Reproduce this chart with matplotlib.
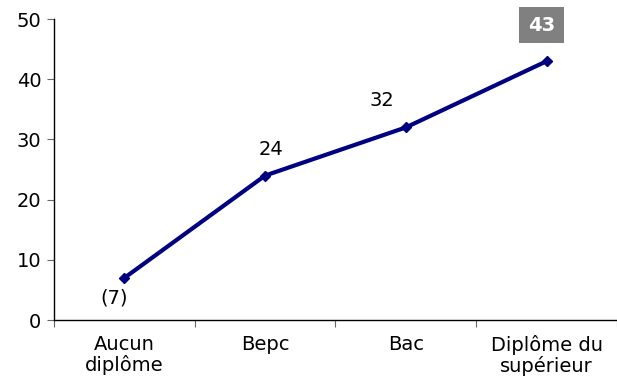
import matplotlib.pyplot as plt
from matplotlib.ticker import FixedLocator, NullFormatter

categories = ["Aucun\ndiplôme", "Bepc", "Bac", "Diplôme du\nsupérieur"]
values = [7, 24, 32, 43]
labels = ["(7)", "24", "32", "43"]

plt.rcParams["font.family"] = "DejaVu Sans"

fig = plt.figure(figsize=(6.17, 3.81), dpi=100)
ax = fig.add_axes([0.0875, 0.16, 0.9125, 0.79])

x = list(range(len(values)))
ax.plot(x, values, color="#000080", linewidth=3.0, marker="D", markersize=5)

ax.set_xlim(-0.5, len(values) - 0.5)
ax.set_ylim(0, 50)
ax.set_yticks(range(0, 51, 10))
ax.set_xticks(x)
ax.set_xticklabels(categories, fontsize=14, linespacing=1.05)
ax.xaxis.set_minor_locator(FixedLocator([i - 0.5 for i in range(len(values) + 1)]))
ax.xaxis.set_minor_formatter(NullFormatter())
ax.tick_params(axis="x", which="major", length=0, pad=11)
ax.tick_params(axis="x", which="minor", length=5, width=0.8, color="#666666")
ax.tick_params(axis="y", labelsize=14, length=5, width=0.8, color="#666666", pad=4)

for s in ["top", "right"]:
    ax.spines[s].set_visible(False)
for s in ["left", "bottom"]:
    ax.spines[s].set_linewidth(1.0)

# data labels
offsets = [(-10, -20), (6, 26), (-24, 27), (-5, 36)]
for i in range(3):
    ax.annotate(labels[i], (x[i], values[i]), xytext=offsets[i], textcoords="offset pixels",
                ha="center", va="center", fontsize=14)
ax.annotate(labels[3], (x[3], values[3]), xytext=offsets[3], textcoords="offset pixels",
            ha="center", va="center", fontsize=14, fontweight="bold", color="white",
            bbox=dict(boxstyle="square,pad=0.45", facecolor="#808080", edgecolor="none"))

fig.savefig("out.png", dpi=100)
